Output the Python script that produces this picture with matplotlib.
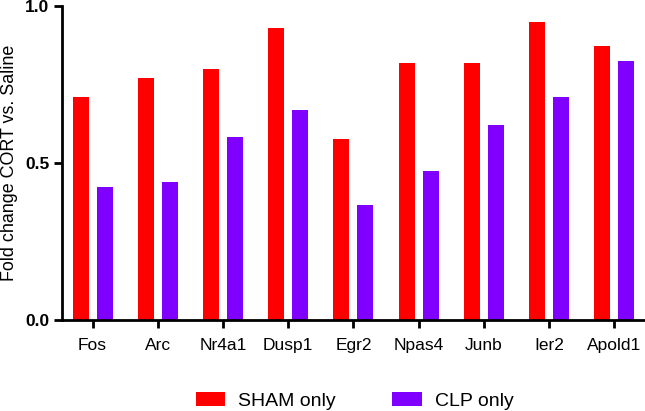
import numpy as np
import matplotlib
matplotlib.use("Agg")
import matplotlib.pyplot as plt

plt.rcParams['font.family'] = ['Liberation Sans', 'DejaVu Sans']

genes = ["Fos", "Arc", "Nr4a1", "Dusp1", "Egr2", "Npas4", "Junb", "Ier2", "Apold1"]
sham_only = [0.71, 0.77, 0.80, 0.93, 0.576, 0.818, 0.818, 0.95, 0.873]
clp_only = [0.425, 0.44, 0.583, 0.669, 0.366, 0.475, 0.62, 0.711, 0.824]

fig = plt.figure(figsize=(6.45, 4.11), dpi=100)
ax = fig.add_axes([0.096, 0.2214, 0.904, 0.7636])

x = np.arange(len(genes))
w = 0.245
off = 0.184
ax.bar(x - off, sham_only, w, color="#FF0000", label="SHAM only")
ax.bar(x + off, clp_only, w, color="#7F00FF", label="CLP only")

ax.set_ylim(0, 1.0)
ax.set_xlim(-0.47, 8.47)
ax.set_yticks([0.0, 0.5, 1.0])
ax.set_yticklabels(["0.0", "0.5", "1.0"], fontweight="bold", fontsize=12.5)
ax.set_xticks(x)
ax.set_xticklabels(genes, fontsize=12.5)
ax.set_ylabel("Fold change CORT vs. Saline", fontsize=12.9)
ax.yaxis.set_label_coords(-0.075, 0.5)

for s in ["top", "right"]:
    ax.spines[s].set_visible(False)
for s in ["left", "bottom"]:
    ax.spines[s].set_linewidth(2)
ax.tick_params(width=2, length=6, direction="out")
ax.tick_params(axis="x", pad=7)
ax.tick_params(axis="y", pad=3)

fig.legend(loc="lower center", bbox_to_anchor=(0.55, -0.04), ncol=2, frameon=False,
           fontsize=14, handlelength=1.5, handleheight=0.77, handletextpad=0.67,
           columnspacing=2.9)

fig.savefig("out.png", dpi=100)
